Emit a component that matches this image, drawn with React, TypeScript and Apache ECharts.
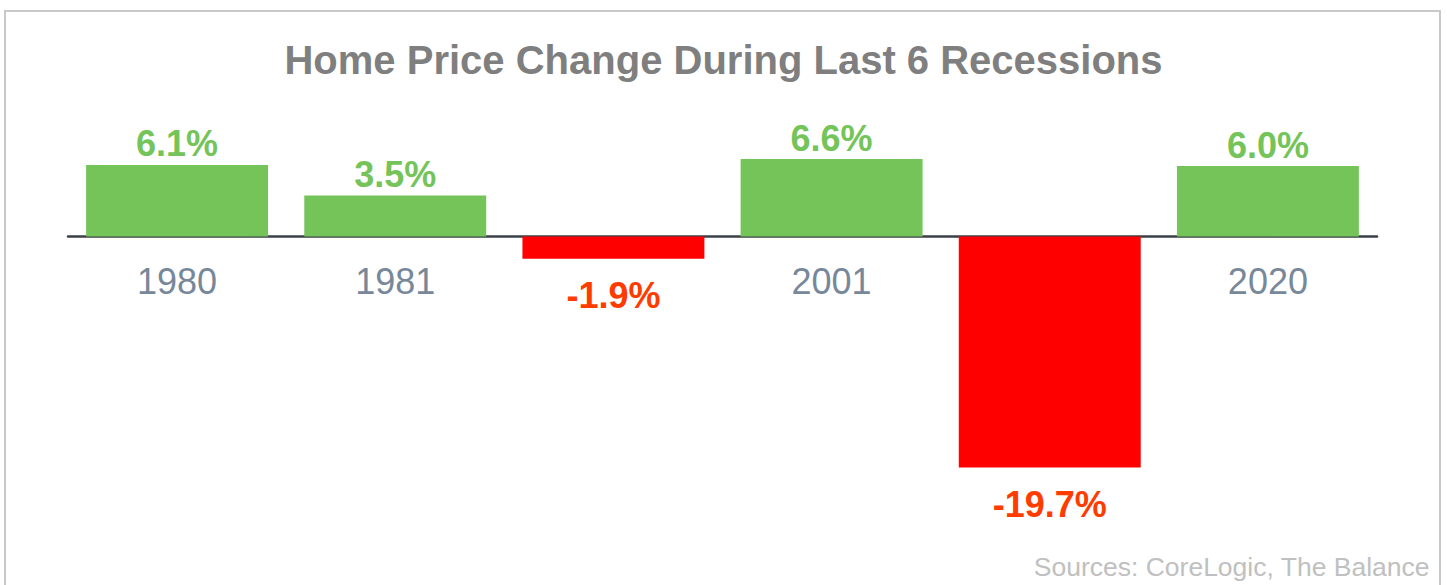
import React, { useEffect, useRef } from "react";
import * as echarts from "echarts";

const categories = ["1980", "1981", "1990", "2001", "2008", "2020"];
const values = [6.1, 3.5, -1.9, 6.6, -19.7, 6.0];
const titleText = "Home Price Change During Last 6 Recessions";
const sourceText = "Sources: CoreLogic, The Balance";

const FONT = "'Liberation Sans', Arial, Helvetica, sans-serif";
const GREEN = "#74c45a";
const RED = "#ff0000";
const RED_LABEL = "#ff3c00";

export default function App() {
  const ref = useRef<HTMLDivElement>(null);
  useEffect(() => {
    if (!ref.current) return;
    const chart = echarts.init(ref.current, null, { renderer: "svg" });
    // category names drawn at the zero line for the non-negative bars
    const catLabels = categories
      .map((c, i) => ({ c, v: values[i] }))
      .filter((d) => d.v >= 0)
      .map((d) => [d.c, 0]);
    chart.setOption({
      animation: false,
      backgroundColor: "#ffffff",
      title: {
        text: titleText,
        left: "center",
        top: 35,
        textStyle: { fontFamily: FONT, fontSize: 40, fontWeight: "bold", color: "#7f7f7f" },
      },
      graphic: [
        {
          type: "rect",
          shape: { x: 5, y: 11, width: 1435, height: 620 },
          style: { fill: "none", stroke: "#c8c8c8", lineWidth: 2 },
          silent: true,
        },
        {
          type: "text",
          right: 17,
          top: 553,
          style: { text: sourceText, font: `26.5px ${FONT}`, fill: "#c0c0c0" },
        },
      ],
      grid: { left: 68, right: 70, top: 142.6, height: 352, containLabel: false },
      xAxis: {
        type: "category",
        data: categories,
        axisLine: { onZero: true, lineStyle: { color: "#3a4048", width: 2.5 } },
        axisTick: { show: false },
        axisLabel: { show: false },
      },
      yAxis: {
        type: "value",
        min: -22,
        max: 8,
        show: false,
        splitLine: { show: false },
      },
      series: [
        {
          type: "bar",
          barCategoryGap: "16.6%",
          z: 2,
          data: values.map((v) => ({
            value: v,
            itemStyle: { color: v >= 0 ? GREEN : RED },
            label: {
              show: true,
              position: v >= 0 ? "top" : "bottom",
              distance: v >= 0 ? 3 : 19,
              formatter: (p: any) => `${Number(p.value).toFixed(1)}%`,
              fontFamily: FONT,
              fontSize: 36,
              fontWeight: "bold",
              color: v >= 0 ? GREEN : RED_LABEL,
            },
          })),
        },
        {
          type: "scatter",
          symbolSize: 0,
          silent: true,
          z: 1,
          itemStyle: { opacity: 1 },
          data: catLabels,
          label: {
            show: true,
            position: "bottom",
            distance: 27,
            formatter: (p: any) => String(p.value[0]),
            fontFamily: FONT,
            fontSize: 36,
            color: "#77889a",
            opacity: 1,
          },
        },
      ],
    });
    return () => chart.dispose();
  }, []);
  return (
    <div
      ref={ref}
      style={{ position: "fixed", left: 0, top: 0, width: 1447, height: 585 }}
    />
  );
}
